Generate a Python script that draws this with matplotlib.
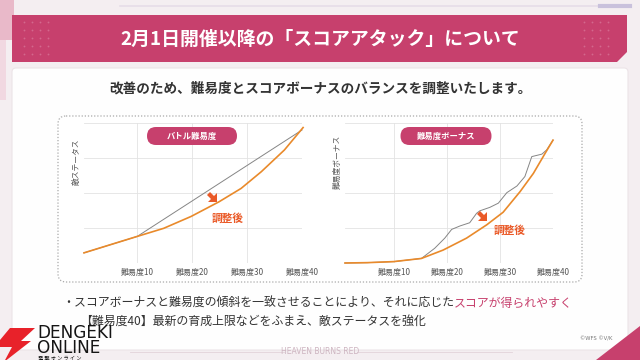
import matplotlib
matplotlib.use('Agg')
import matplotlib.pyplot as plt
from matplotlib.patches import FancyBboxPatch, Polygon, Rectangle
import numpy as np

plt.rcParams['font.family'] = ['Noto Sans CJK JP', 'DejaVu Sans']

# ---- data ----
# battle difficulty (left chart): enemy status vs difficulty level
battle_before_x = [0.3, 10, 40]
battle_before_y = [0.29, 0.76, 3.80]
battle_after_x = [0.3, 10, 14.8, 19.8, 24.9, 28.9, 32.6, 36.8, 40.2]
battle_after_y = [0.29, 0.76, 0.99, 1.33, 1.75, 2.13, 2.61, 3.23, 3.87]

# difficulty bonus (right chart)
bonus_before_x = [0.8, 5, 10, 15.2, 17.7, 19.6, 20.9, 22.5, 24.3, 25.6, 26.2,
                  28.1, 29.7, 31.3, 33.2, 34.7, 36.0, 37.9, 38.8, 40]
bonus_before_y = [0.0, 0.01, 0.04, 0.13, 0.42, 0.71, 0.96, 1.06, 1.15, 1.42, 1.49,
                  1.59, 1.71, 2.01, 2.20, 2.47, 3.04, 3.11, 3.23, 3.51]
bonus_after_x = [0.8, 5, 10, 15.2, 19.3, 23.7, 27.5, 30.6, 33.8, 36.3, 38.5, 40]
bonus_after_y = [0.0, 0.01, 0.04, 0.13, 0.37, 0.71, 1.09, 1.45, 2.04, 2.56, 3.13, 3.51]

tick_levels = [10, 20, 30, 40]
tick_labels = ['難易度10', '難易度20', '難易度30', '難易度40']

title = '2月1日開催以降の「スコアアタック」について'
subtitle = '改善のため、難易度とスコアボーナスのバランスを調整いたします。'
bullet_a = '・スコアボーナスと難易度の傾斜を一致させることにより、それに応じた'
bullet_b = 'スコアが得られやすく'
bullet2 = '【難易度40】最新の育成上限などをふまえ、敵ステータスを強化'

MAGENTA = '#c7406d'
ORANGE = '#e98a2b'
RED_ORANGE = '#ea5a28'
GRAY_LINE = '#858585'

fig = plt.figure(figsize=(6.4, 3.6), dpi=100)
fig.patch.set_facecolor('#f4eef1')

# background / decoration layer in pixel coordinates
bg = fig.add_axes([0, 0, 1, 1], zorder=0)
bg.set_xlim(0, 640)
bg.set_ylim(360, 0)
bg.axis('off')

bg.add_patch(Rectangle((0, 0), 14, 40, color='#e9b9c9', lw=0))
bg.add_patch(Rectangle((0, 40), 6, 60, color='#f1d8e1', lw=0))
bg.plot([120, 620], [6, 6], color='#e6dde8', lw=1.2)
bg.plot([600, 630], [6, 6], color='#c9c1dc', lw=3)

# white panel
bg.add_patch(FancyBboxPatch((12, 68), 616, 282, boxstyle='round,pad=0,rounding_size=4',
                            fc='#fefefe', ec='#ece4e8', lw=0.8))
# banner with cut corner
bg.add_patch(Polygon([(12, 15), (627, 15), (627, 52), (617, 62), (12, 62)],
                     closed=True, fc=MAGENTA, ec='none'))
for cx in (40, 600):
    for i in range(4):
        for j in range(5):
            bg.plot(cx - 16 + i * 8, 22 + j * 8, 'o', ms=1.3, color='#d4688d', mec='none')
bg.text(320, 39, title, color='white', fontsize=13.6, fontweight='bold', ha='center', va='center')
bg.text(320, 88, subtitle, color='#333333', fontsize=9.8, fontweight='bold', ha='center', va='center')

# dotted chart box
bg.add_patch(FancyBboxPatch((58, 116), 524, 166, boxstyle='round,pad=0,rounding_size=8',
                            fc='white', ec='#a9a9a9', lw=0.9, ls=(0, (1, 1.5))))

# bottom-right corner shape
bg.add_patch(Polygon([(596, 360), (640, 326), (640, 360)], closed=True, fc=MAGENTA, ec='none'))

# footer
bg.plot([130, 284], [352, 352], color='#e3d3da', lw=0.6)
bg.plot([357, 512], [352, 352], color='#e3d3da', lw=0.6)
bg.text(320, 352, 'HEAVEN BURNS RED', color='#cdb4c0', fontsize=5.5, ha='center', va='center',
        family=['DejaVu Sans'])
bg.text(596, 339, '©WFS ©V/K', color='#777777', fontsize=3.8, ha='center', va='center',
        family=['DejaVu Sans'])

# bullet texts
t1 = bg.text(62, 303, bullet_a, color='#333333', fontsize=8.6, ha='left', va='center')
bg.text(80, 321, bullet2, color='#333333', fontsize=8.6, ha='left', va='center')


def draw_chart(rect, xs_before, ys_before, xs_after, ys_after, xlim):
    ax = fig.add_axes(rect, zorder=2)
    ax.set_facecolor('none')
    ax.set_xlim(*xlim)
    ax.set_ylim(0, 4)
    ax.set_xticks(tick_levels)
    ax.set_xticklabels(tick_labels, fontsize=5.8, color='#555555')
    ax.set_yticks([0, 1, 2, 3, 4])
    ax.set_yticklabels([])
    ax.tick_params(length=0, pad=3.5)
    ax.grid(True, color='#e3e3e3', lw=0.6)
    ax.set_axisbelow(True)
    for s in ax.spines.values():
        s.set_visible(False)
    ax.plot(xs_before, ys_before, color=GRAY_LINE, lw=0.7, clip_on=False, zorder=3)
    ax.plot(xs_after, ys_after, color=ORANGE, lw=1.2, clip_on=False, zorder=4)
    return ax


ax1 = draw_chart([84 / 640, 97 / 360, 218 / 640, 140 / 360],
                 battle_before_x, battle_before_y, battle_after_x, battle_after_y, (0.3, 40))
ax2 = draw_chart([345 / 640, 97 / 360, 208 / 640, 140 / 360],
                 bonus_before_x, bonus_before_y, bonus_after_x, bonus_after_y, (0.8, 40))

# overlay for pills, arrows and labels
top = fig.add_axes([0, 0, 1, 1], zorder=5)
top.set_xlim(0, 640)
top.set_ylim(360, 0)
top.axis('off')
top.patch.set_alpha(0)


def pill(cx, cy, w, h, text):
    top.add_patch(FancyBboxPatch((cx - w / 2, cy - h / 2), w, h,
                                 boxstyle='round,pad=0,rounding_size=%f' % (h / 2),
                                 fc=MAGENTA, ec='none', mutation_aspect=1))
    top.text(cx, cy, text, color='white', fontsize=6, fontweight='bold', ha='center', va='center')


def down_arrow(cx, cy):
    pts = [(-5, -2), (-2, -5), (2, -1), (5, -4), (5, 5), (-4, 5), (-1, 2)]
    top.add_patch(Polygon([(cx + x, cy + y) for x, y in pts], closed=True,
                          fc=RED_ORANGE, ec='none'))


pill(192, 136, 90, 18, 'バトル難易度')
pill(446, 136, 91, 18, '難易度ボーナス')
down_arrow(212, 197)
down_arrow(482, 216)
top.text(228, 218, '調整後', color=RED_ORANGE, fontsize=7.7, fontweight='bold', ha='center', va='center')
top.text(510, 230, '調整後', color=RED_ORANGE, fontsize=7.7, fontweight='bold', ha='center', va='center')
top.text(77, 162, '敵ステータス', color='#555555', fontsize=5.6, rotation=90, ha='center', va='center')
top.text(338, 162, '難易度ボーナス', color='#555555', fontsize=5.6, rotation=90, ha='center', va='center')

# dengeki logo watermark
top.add_patch(Polygon([(10, 328), (35, 328), (21, 341), (31, 341), (4, 362),
                       (12, 347), (0, 347), (0, 340)], closed=True, fc='#e8222a', ec='none'))
top.text(37, 324, 'DENGEKI\nONLINE', color='#151515', fontsize=12.2, ha='left', va='top',
         linespacing=0.76, family=['DejaVu Sans'])
top.text(38, 358.5, '電 撃 オ ン ラ イ ン', color='#151515', fontsize=3.8, ha='left', va='center')

# magenta tail of the first bullet line, placed after the dark part
fig.canvas.draw()
bb = t1.get_window_extent()
x_end = bg.transData.inverted().transform((bb.x1, bb.y0))[0]
bg.text(x_end, 303, bullet_b, color=MAGENTA, fontsize=8.6, ha='left', va='center')

fig.savefig('out.png', dpi=100, facecolor=fig.get_facecolor())
